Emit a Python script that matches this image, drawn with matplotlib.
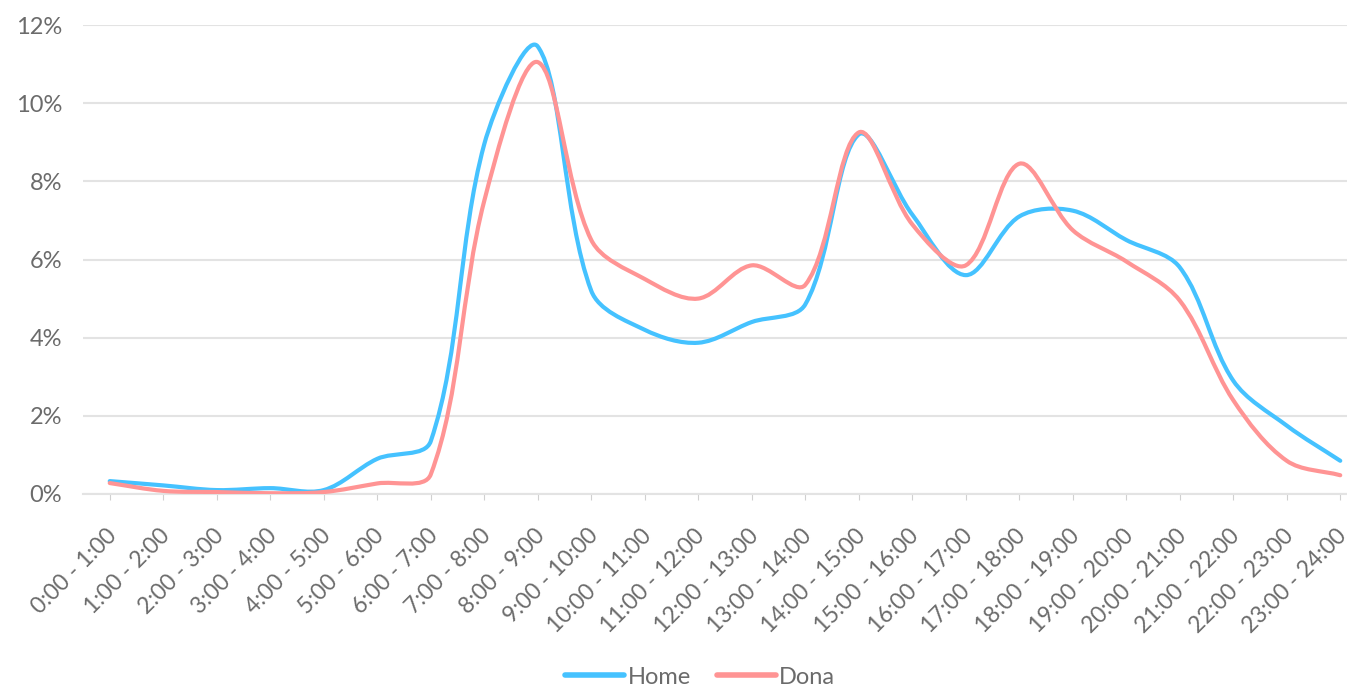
"""Hourly share of trips: Home vs Dona, Excel-style smoothed lines."""

import matplotlib
matplotlib.use("Agg")
import matplotlib.pyplot as plt
import matplotlib.transforms as mtransforms
import numpy as np
from matplotlib.path import Path
from matplotlib.patches import PathPatch
from matplotlib.lines import Line2D
from matplotlib.ticker import FuncFormatter

HOURS = [f"{h}:00 - {h + 1}:00" for h in range(24)]

HOME = [0.33, 0.22, 0.10, 0.15, 0.10, 0.90, 1.35, 8.95, 11.45, 5.20, 4.20, 3.87,
        4.40, 4.85, 9.20, 7.15, 5.60, 7.10, 7.25, 6.50, 5.80, 2.90, 1.75, 0.85]
DONA = [0.28, 0.08, 0.05, 0.02, 0.05, 0.27, 0.50, 7.50, 11.05, 6.50, 5.50, 5.00,
        5.85, 5.35, 9.25, 6.90, 5.85, 8.45, 6.75, 5.95, 4.95, 2.40, 0.85, 0.48]

COLORS = {"Home": "#45C2FF", "Dona": "#FF9494"}
TEXT = "#6B6B6B"
GRID = "#E3E3E3"

plt.rcParams["font.family"] = ["Lato", "DejaVu Sans"]

W, H = 1347, 691
AX_LEFT, AX_RIGHT, AX_BOTTOM, AX_TOP = 83, 1367, 494, 25  # pixels
YMAX = 0.12


def smooth_path(xs, ys, sx, sy):
    """Cubic Bezier through every point; handles weighted by chord length
    in screen space so short steps next to steep jumps don't overshoot."""
    pts = np.column_stack([np.asarray(xs) * sx, np.asarray(ys) * sy]).astype(float)
    n = len(pts)
    d = np.hypot(*(pts[1:] - pts[:-1]).T)
    verts = [pts[0]]
    codes = [Path.MOVETO]
    for i in range(n - 1):
        p1, p2 = pts[i], pts[i + 1]
        p0 = pts[max(i - 1, 0)]
        p3 = pts[min(i + 2, n - 1)]
        d01 = d[i - 1] if i > 0 else 0.0
        d23 = d[i + 1] if i + 2 < n else 0.0
        c1 = p1 + (p2 - p0) * d[i] / (d01 + d[i]) / 3.0
        c2 = p2 - (p3 - p1) * d[i] / (d[i] + d23) / 3.0
        verts += [c1, c2, p2]
        codes += [Path.CURVE4] * 3
    verts = np.array(verts)
    verts[:, 0] /= sx
    verts[:, 1] /= sy
    return Path(verts, codes)


fig = plt.figure(figsize=(W / 100, H / 100), dpi=100)
ax = fig.add_axes([AX_LEFT / W, (H - AX_BOTTOM) / H,
                   (AX_RIGHT - AX_LEFT) / W, (AX_BOTTOM - AX_TOP) / H])

x = np.arange(len(HOURS))
sx = (AX_RIGHT - AX_LEFT) / len(HOURS)
sy = (AX_BOTTOM - AX_TOP) / YMAX
for name, vals in [("Home", HOME), ("Dona", DONA)]:
    patch = PathPatch(smooth_path(x, np.array(vals) / 100.0, sx, sy), fill=False,
                      edgecolor=COLORS[name], lw=3.0, capstyle="round",
                      joinstyle="round", zorder=3)
    ax.add_patch(patch)

ax.set_xlim(-0.5, len(HOURS) - 0.5)
ax.set_ylim(0, YMAX)
ax.set_yticks(np.arange(0, 0.121, 0.02))
ax.yaxis.set_major_formatter(FuncFormatter(lambda v, _: f"{v * 100:.0f}%"))
ax.set_xticks(x)
ax.set_xticklabels([])

# category labels drawn as texts so they can sit a little left of the ticks
lbl_trans = ax.get_xaxis_transform() + mtransforms.ScaledTranslation(
    -4 / 100, -31 / 100, fig.dpi_scale_trans)
for xi, name in zip(x, HOURS):
    ax.text(xi, 0, name, transform=lbl_trans, rotation=45, ha="right",
            va="top", rotation_mode="anchor", fontsize=16.5, color=TEXT,
            clip_on=False)

ax.grid(axis="y", color=GRID, lw=1.5)
ax.set_axisbelow(True)
for side in ["top", "right", "left"]:
    ax.spines[side].set_visible(False)
ax.spines["bottom"].set_color(GRID)
ax.spines["bottom"].set_linewidth(1.5)
ax.tick_params(axis="y", length=0, labelsize=17, labelcolor=TEXT, pad=15)
ax.tick_params(axis="x", length=4, color="#D0D0D0")

handles = [Line2D([], [], color=COLORS[n], lw=4, solid_capstyle="round")
           for n in ["Home", "Dona"]]
fig.legend(handles, ["Home", "Dona"], loc="center", ncol=2,
           bbox_to_anchor=(700 / W, 1 - 677 / H), frameon=False,
           fontsize=17, labelcolor=TEXT, handlelength=2.5,
           handletextpad=0.15, columnspacing=1.1)

fig.savefig("out.png", dpi=100)
